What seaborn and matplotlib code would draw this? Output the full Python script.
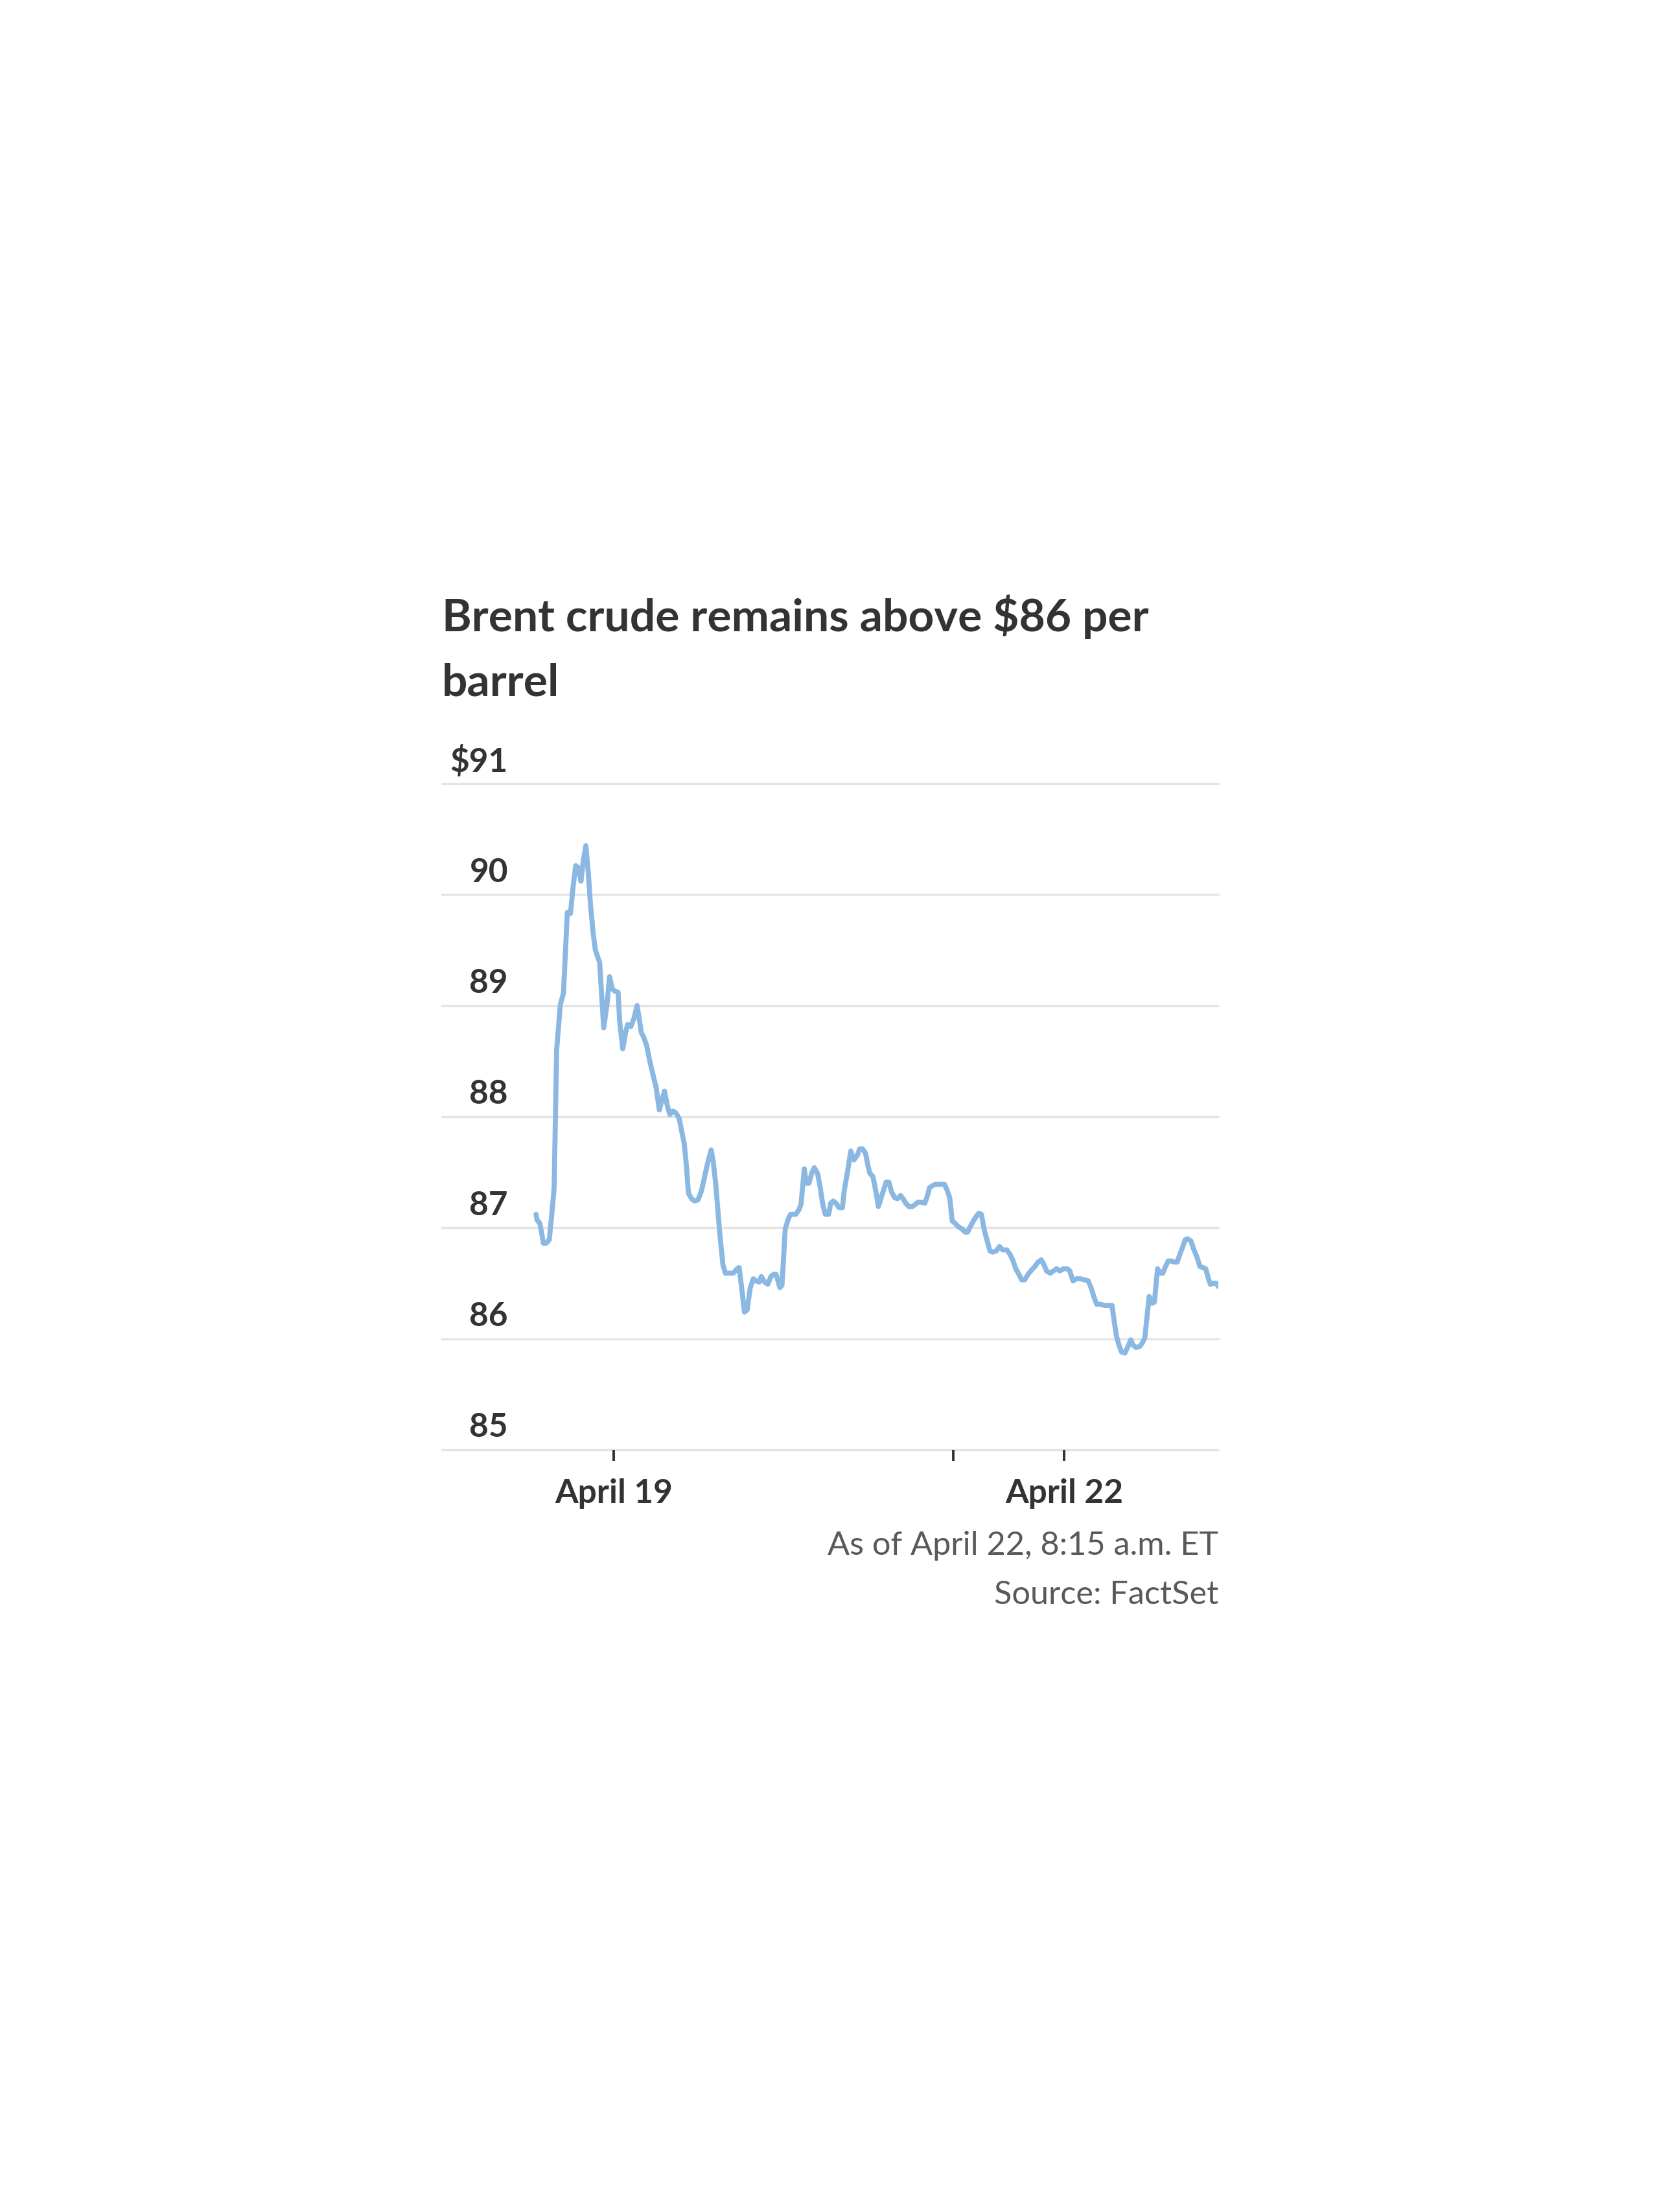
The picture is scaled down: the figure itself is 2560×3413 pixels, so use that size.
import pandas as pd
import matplotlib.pyplot as plt
import seaborn as sns

# Brent crude intraday prices
# t = plotted trading hours relative to April 19, 00:00 (weekend gap removed)
t = [-4.00, -3.95, -3.81, -3.73, -3.62, -3.48, -3.32, -3.18, -3.07, -2.94,
     -2.75, -2.59, -2.39, -2.23, -2.10, -1.96, -1.82, -1.69, -1.58, -1.44,
     -1.31, -1.20, -1.06, -0.95, -0.87, -0.73, -0.63, -0.52, -0.35, -0.22,
     -0.08, 0.05, 0.22, 0.30, 0.46, 0.60, 0.71, 0.87, 1.03, 1.20,
     1.31, 1.41, 1.55, 1.69, 1.85, 2.04, 2.18, 2.34, 2.48, 2.61,
     2.75, 2.88, 3.05, 3.21, 3.37, 3.48, 3.62, 3.73, 3.84, 4.00,
     4.16, 4.33, 4.49, 4.60, 4.71, 4.84, 5.01, 5.12, 5.25, 5.44,
     5.61, 5.74, 5.88, 5.99, 6.15, 6.34, 6.45, 6.59, 6.72, 6.86,
     7.02, 7.18, 7.32, 7.48, 7.59, 7.76, 7.92, 8.08, 8.22, 8.35,
     8.54, 8.65, 8.82, 8.98, 9.09, 9.25, 9.36, 9.52, 9.63, 9.80,
     9.90, 10.04, 10.18, 10.31, 10.48, 10.61, 10.75, 10.88, 11.05, 11.16,
     11.29, 11.43, 11.59, 11.76, 11.86, 12.03, 12.19, 12.35, 12.52, 12.65,
     12.79, 12.95, 13.06, 13.17, 13.33, 13.50, 13.61, 13.74, 13.88, 14.01,
     14.15, 14.29, 14.45, 14.59, 14.75, 14.88, 15.02, 15.18, 15.35, 15.51,
     15.65, 15.81, 16.00, 16.14, 16.24, 16.41, 16.54, 16.71, 16.87, 17.01,
     17.14, 17.28, 17.41, 17.55, 17.71, 17.90, 18.07, 18.20, 18.34, 18.50,
     18.64, 18.78, 18.91, 19.07, 19.21, 19.35, 19.48, 19.67, 19.84, 20.00,
     20.22, 20.38, 20.52, 20.68, 20.84, 20.98, 21.14, 21.31, 21.50, 21.66,
     21.82, 21.99, 22.12, 22.26, 22.45, 22.61, 22.78, 22.94, 23.13, 23.32,
     23.46, 23.62, 23.81, 24.00, 24.22, 24.41, 24.57, 24.71, 24.84, 25.03,
     25.25, 25.41, 25.63, 25.74, 25.85, 25.99, 26.12, 26.29, 26.45, 26.59,
     26.72, 26.88, 27.05, 27.18, 27.32, 27.43, 27.54, 27.70, 27.81, 27.97,
     28.11, 28.24, 28.38, 28.52, 28.68, 28.84, 28.98, 29.12, 29.25, 29.39,
     29.52, 29.69, 29.82, 29.99, 30.15, 30.31, 30.45, 30.59, 30.69, 30.86,
     30.99, 31.10]

price = [87.12, 87.07, 87.04, 86.97, 86.86, 86.86, 86.89, 87.14, 87.36, 88.60,
         89.01, 89.11, 89.84, 89.83, 90.06, 90.26, 90.24, 90.12, 90.29, 90.44,
         90.19, 89.91, 89.65, 89.50, 89.46, 89.39, 89.11, 88.80, 89.01, 89.26,
         89.15, 89.13, 89.12, 88.86, 88.61, 88.75, 88.83, 88.81, 88.88, 89.00,
         88.88, 88.76, 88.71, 88.64, 88.50, 88.36, 88.26, 88.06, 88.15, 88.23,
         88.10, 88.02, 88.05, 88.03, 87.98, 87.88, 87.76, 87.57, 87.31, 87.26,
         87.24, 87.25, 87.32, 87.40, 87.49, 87.59, 87.70, 87.59, 87.38, 86.97,
         86.67, 86.59, 86.59, 86.59, 86.59, 86.63, 86.64, 86.44, 86.24, 86.26,
         86.46, 86.54, 86.52, 86.51, 86.56, 86.51, 86.49, 86.56, 86.58, 86.58,
         86.46, 86.48, 86.99, 87.08, 87.12, 87.12, 87.12, 87.16, 87.21, 87.53,
         87.40, 87.40, 87.49, 87.54, 87.49, 87.37, 87.21, 87.12, 87.12, 87.22,
         87.24, 87.22, 87.18, 87.18, 87.34, 87.51, 87.69, 87.61, 87.65, 87.71,
         87.71, 87.67, 87.57, 87.49, 87.46, 87.31, 87.19, 87.26, 87.34, 87.41,
         87.41, 87.32, 87.27, 87.26, 87.29, 87.26, 87.22, 87.19, 87.19, 87.21,
         87.23, 87.23, 87.22, 87.29, 87.36, 87.38, 87.39, 87.39, 87.39, 87.39,
         87.34, 87.27, 87.06, 87.04, 87.01, 86.99, 86.96, 86.96, 87.01, 87.06,
         87.10, 87.13, 87.12, 86.97, 86.88, 86.79, 86.78, 86.79, 86.83, 86.80,
         86.80, 86.76, 86.71, 86.63, 86.58, 86.53, 86.53, 86.58, 86.62, 86.65,
         86.69, 86.71, 86.67, 86.61, 86.59, 86.61, 86.63, 86.61, 86.63, 86.63,
         86.61, 86.52, 86.54, 86.54, 86.53, 86.52, 86.45, 86.37, 86.31, 86.31,
         86.30, 86.30, 86.30, 86.16, 86.03, 85.94, 85.88, 85.87, 85.93, 85.99,
         85.94, 85.92, 85.93, 85.96, 86.01, 86.20, 86.38, 86.32, 86.33, 86.63,
         86.59, 86.59, 86.65, 86.70, 86.70, 86.69, 86.69, 86.76, 86.82, 86.89,
         86.90, 86.88, 86.81, 86.74, 86.65, 86.64, 86.63, 86.54, 86.49, 86.50,
         86.50, 86.47]

y_ticks = [85, 86, 87, 88, 89, 90, 91]
y_labels = ["85", "86", "87", "88", "89", "90", "$91"]
x_ticks = [0.0, 17.47, 23.18]
x_labels = ["April 19", "", "April 22"]

title_lines = ["Brent crude remains above $86 per", "barrel"]
notes = ["As of April 22, 8:15 a.m. ET", "Source: FactSet"]

LINE = "#8ab8e3"
GRID = "#e4e4e4"
TEXT = "#333333"
NOTE = "#595959"

sns.set_style("white")
plt.rcParams["font.family"] = ["Lato", "DejaVu Sans"]

df = pd.DataFrame({"t": t, "price": price})

fig = plt.figure(figsize=(25.6, 34.13), dpi=100)
ax = fig.add_axes([0.2664, 0.3446, 0.468, 0.3012])

for v in y_ticks:
    ax.axhline(v, color=GRID, lw=2.4, zorder=0, clip_on=False)

sns.lineplot(data=df, x="t", y="price", color=LINE, linewidth=5.6,
             estimator=None, ax=ax, zorder=3)

ax.set_xlim(-8.84, 31.10)
ax.set_ylim(85, 91)
sns.despine(ax=ax, left=True, bottom=True)
ax.set_xlabel("")
ax.set_ylabel("")
ax.set_yticks([])

ax.set_xticks(x_ticks, x_labels)
ax.tick_params(axis="x", bottom=True, direction="out", length=12, width=2.8,
               color=TEXT, pad=20, labelsize=37, labelcolor=TEXT)
for lab in ax.get_xticklabels():
    lab.set_fontweight("bold")

for v, lab in zip(y_ticks, y_labels):
    ax.annotate(lab, xy=(0.0851, v), xycoords=("axes fraction", "data"),
                xytext=(0, 24.5), textcoords="offset points",
                ha="right", va="center", fontsize=37, color=TEXT,
                fontweight="bold")

# title, two lines as in the original
fig.text(0.2664, 1 - 974 / 3413, title_lines[0], fontsize=50,
         fontweight="bold", color=TEXT, va="baseline", ha="left")
fig.text(0.2664, 1 - 1074 / 3413, title_lines[1], fontsize=50,
         fontweight="bold", color=TEXT, va="baseline", ha="left")

fig.text(0.7344, 1 - 2399 / 3413, notes[0], fontsize=36.3, color=NOTE,
         va="baseline", ha="right")
fig.text(0.7344, 1 - 2475 / 3413, notes[1], fontsize=36.3, color=NOTE,
         va="baseline", ha="right")

fig.savefig("out.png", dpi=100, facecolor="white")
plt.close(fig)
